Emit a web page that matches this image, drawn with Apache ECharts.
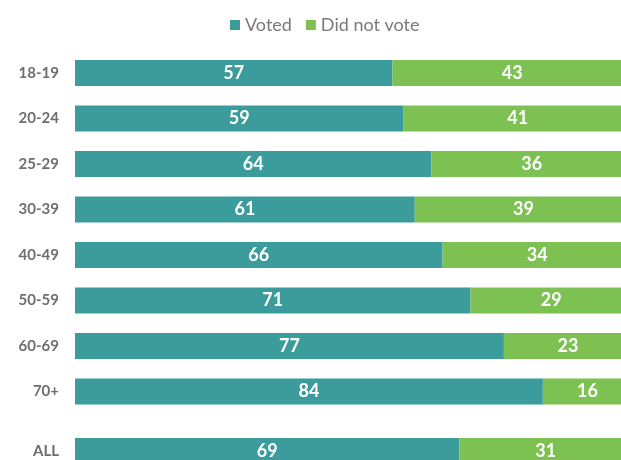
<!DOCTYPE html>
<html><head><meta charset="utf-8">
<script src="https://cdn.jsdelivr.net/npm/echarts@6/dist/echarts.min.js"></script>
<style>html,body{margin:0;padding:0;background:#fff}#c{width:621px;height:460px}</style>
</head><body><div id="c"></div>
<script>
const ageGroups = ['18-19','20-24','25-29','30-39','40-49','50-59','60-69','70+'];
const voted = [57,59,64,61,66,71,77,84];
const didNotVote = [43,41,36,39,34,29,23,16];
const allLabel = ['ALL'];
const allVoted = [69];
const allDidNotVote = [31];

const TEAL = '#3b9c9b', GREEN = '#7cc152';
const axisLabel = {color:'#6e6e6e', fontSize:15, fontWeight:'bold', fontFamily:'Lato', margin:16};
const barLabel = {show:true, position:'inside', color:'#fff', fontSize:18, fontWeight:'bold', fontFamily:'Lato'};
const chart = echarts.init(document.getElementById('c'));
chart.setOption({
  animation:false,
  legend:{top:11, left:225, itemWidth:10, itemHeight:10, itemGap:14, icon:'rect',
    textStyle:{color:'#7a7a7a', fontSize:18, fontFamily:'Lato'},
    data:['Voted','Did not vote']},
  grid:[
    {left:75, width:557, top:50.25, height:364, outerBoundsMode:'none'},
    {left:75, width:557, top:428.25, height:45.5, outerBoundsMode:'none'}
  ],
  xAxis:[
    {gridIndex:0, type:'value', min:0, max:100, show:false},
    {gridIndex:1, type:'value', min:0, max:100, show:false}
  ],
  yAxis:[
    {gridIndex:0, type:'category', inverse:true, data:ageGroups, axisLine:{show:false}, axisTick:{show:false}, axisLabel},
    {gridIndex:1, type:'category', inverse:true, data:allLabel, axisLine:{show:false}, axisTick:{show:false}, axisLabel}
  ],
  series:[
    {name:'Voted', type:'bar', stack:'a', xAxisIndex:0, yAxisIndex:0, data:voted, barWidth:26, itemStyle:{color:TEAL}, label:barLabel},
    {name:'Did not vote', type:'bar', stack:'a', xAxisIndex:0, yAxisIndex:0, data:didNotVote, barWidth:26, itemStyle:{color:GREEN}, label:barLabel},
    {name:'Voted', type:'bar', stack:'b', xAxisIndex:1, yAxisIndex:1, data:allVoted, barWidth:26, itemStyle:{color:TEAL}, label:barLabel},
    {name:'Did not vote', type:'bar', stack:'b', xAxisIndex:1, yAxisIndex:1, data:allDidNotVote, barWidth:26, itemStyle:{color:GREEN}, label:barLabel}
  ]
});
</script></body></html>
